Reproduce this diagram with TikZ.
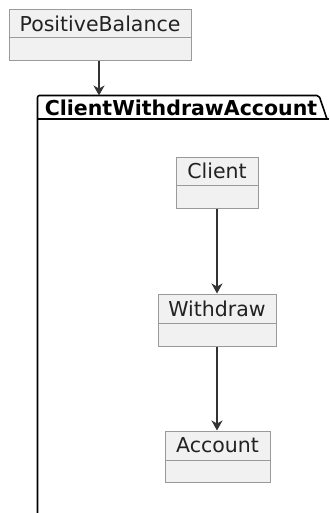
\documentclass[tikz,border=0pt]{standalone}
\usepackage{fontspec}
\setmainfont{DejaVu Sans}
\usetikzlibrary{arrows.meta}
\definecolor{boxfill}{HTML}{F1F1F1}
\definecolor{boxline}{HTML}{9A9A9A}
\definecolor{ink}{HTML}{222222}
\definecolor{arrowc}{HTML}{333333}
\tikzset{
  cls/.style={draw=boxline, fill=boxfill, line width=1pt, inner sep=0pt, rectangle},
  clstitle/.style={inner sep=0pt, text=ink, font=\fontsize{20.5}{24}\selectfont},
  divider/.style={draw=boxline, line width=1pt},
  conn/.style={draw=arrowc, line width=1.2pt, -{Stealth[length=10pt,width=11pt,inset=3pt]}},
  pkg/.style={draw=black, line width=1.6pt, line join=round},
  pkgtitle/.style={inner sep=0pt, text=black, font=\bfseries\fontsize{20.5}{24}\selectfont}
}
\begin{document}
\begin{tikzpicture}[x=1pt,y=-1pt]
\useasboundingbox (0,0) rectangle (329,513);
% package
\draw[pkg] (37.5,513) -- (37.5,98) [rounded corners=2pt] -- (37.5,95.5) -- (319,95.5) [sharp corners] -- (327,119);
\draw[pkg] (37.5,119) -- (329,119);
\coordinate (tabtop) at (99,95.5);
\node[pkgtitle] (pkgname) at (181,107.5) {ClientWithdrawAccount};
% classes
\node[cls, minimum width=182pt, minimum height=51pt] (pb) at (100,35.5) {};
\node[clstitle] (pbt) at (100,24) {PositiveBalance};
\draw[divider] (9,38) -- (191,38);
\node[cls, minimum width=82pt, minimum height=51pt] (cl) at (217,182.5) {};
\node[clstitle] (clt) at (217,171) {Client};
\draw[divider] (176,185) -- (258,185);
\node[cls, minimum width=118pt, minimum height=52pt] (wd) at (217,320) {};
\node[clstitle] (wdt) at (217,308.5) {Withdraw};
\draw[divider] (158,323) -- (276,323);
\node[cls, minimum width=105pt, minimum height=51pt] (ac) at (217.5,456.5) {};
\node[clstitle] (act) at (217.5,445.5) {Account};
\draw[divider] (165,460) -- (270,460);
% connectors
\draw[conn] (pb.south -| tabtop) -- (tabtop);
\draw[conn] (cl.south) -- (wd.north);
\draw[conn] (wd.south) -- (wd.south |- ac.north);
\end{tikzpicture}
\end{document}
